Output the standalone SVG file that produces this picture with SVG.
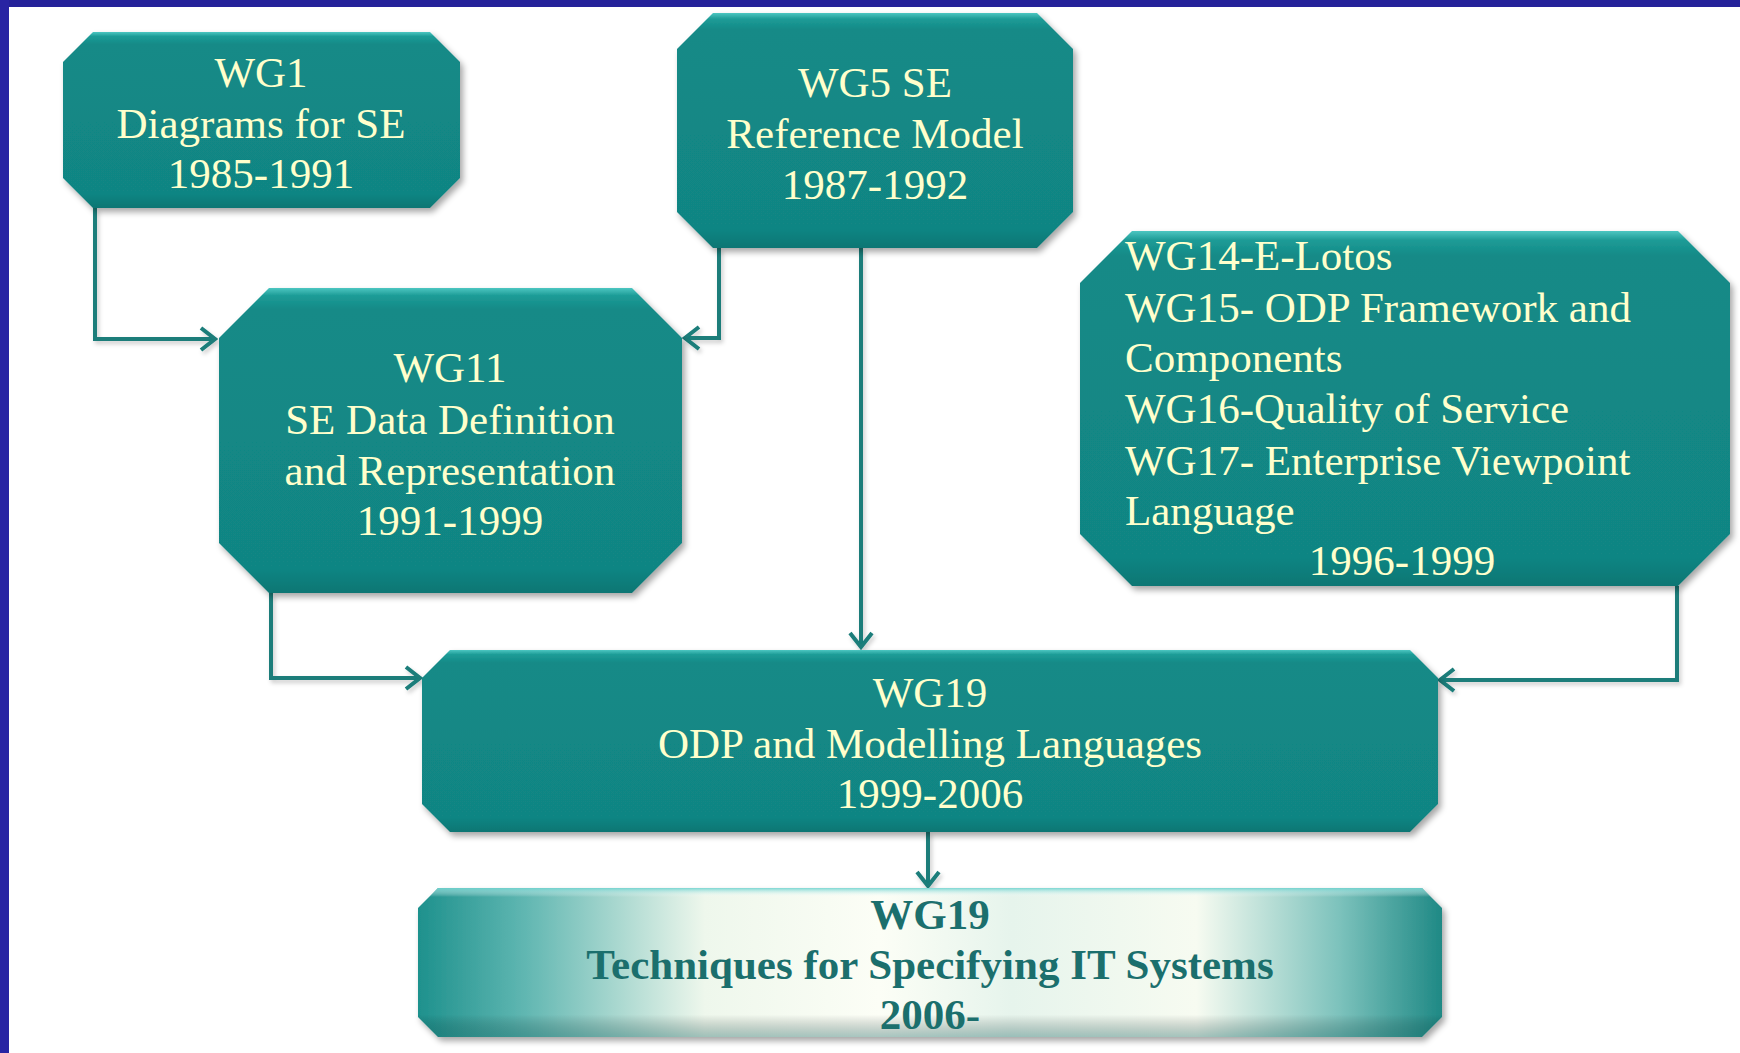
<svg xmlns="http://www.w3.org/2000/svg" width="1740" height="1053" viewBox="0 0 1740 1053">
<style>
.box{fill:url(#teal);filter:url(#sh)}
.t{font-family:"Liberation Serif","Times New Roman",serif;font-size:43px;fill:#FFFFCC}
.c{text-anchor:middle}
.b{font-family:"Liberation Serif","Times New Roman",serif;font-size:43px;font-weight:bold;fill:#1B6F6D;text-anchor:middle}
.conn{fill:none;stroke:#1A7D7A;stroke-width:4;marker-end:url(#arr)}
</style>
<defs>
<linearGradient id="teal" x1="0" y1="0" x2="0" y2="1">
<stop offset="0" stop-color="#4CC6C1"/>
<stop offset="0.025" stop-color="#1E9C97"/>
<stop offset="0.07" stop-color="#138A87"/>
<stop offset="0.92" stop-color="#118583"/>
<stop offset="1" stop-color="#0E7673"/>
</linearGradient>
<linearGradient id="light" x1="0" y1="0" x2="1" y2="0">
<stop offset="0" stop-color="#1E918D"/>
<stop offset="0.1" stop-color="#5DB5B0"/>
<stop offset="0.28" stop-color="#EEF7EC"/>
<stop offset="0.45" stop-color="#FCFEF6"/>
<stop offset="0.58" stop-color="#E6F4EC"/>
<stop offset="0.76" stop-color="#F7FBF1"/>
<stop offset="0.9" stop-color="#7CC2BC"/>
<stop offset="1" stop-color="#1F8985"/>
</linearGradient>
<linearGradient id="lightv" x1="0" y1="0" x2="0" y2="1">
<stop offset="0" stop-color="#6FD3CF" stop-opacity="0.9"/>
<stop offset="0.06" stop-color="#ffffff" stop-opacity="0"/>
<stop offset="0.85" stop-color="#000000" stop-opacity="0"/>
<stop offset="1" stop-color="#0B5E5C" stop-opacity="0.35"/>
</linearGradient>
<filter id="sh" x="-5%" y="-5%" width="112%" height="120%">
<feDropShadow dx="3" dy="4" stdDeviation="3" flood-color="#000" flood-opacity="0.35"/>
</filter>
<filter id="lsh" filterUnits="userSpaceOnUse" x="0" y="0" width="1740" height="1053">
<feDropShadow dx="2" dy="3" stdDeviation="2" flood-color="#000" flood-opacity="0.2"/>
</filter>
<marker id="arr" markerUnits="userSpaceOnUse" viewBox="0 0 20 28" refX="17" refY="14" markerWidth="20" markerHeight="28" orient="auto">
<path d="M3,3 L17,14 L3,25" fill="none" stroke="#1A7D7A" stroke-width="4"/>
</marker>
</defs>
<rect x="0" y="0" width="1740" height="1053" fill="#FFFFFF"/>
<rect x="0" y="0" width="1740" height="7" fill="#25229A"/>
<rect x="0" y="0" width="9" height="1053" fill="#2824A3"/>

<g id="connectors" filter="url(#lsh)">
<path class="conn" d="M95,208 V339 H215"/>
<path class="conn" d="M719,248 V338 H685"/>
<path class="conn" d="M861,248 V647"/>
<path class="conn" d="M271,593 V678 H420"/>
<path class="conn" d="M1677,586 V680 H1440"/>
<path class="conn" d="M928,832 V886"/>
</g>

<g id="wg1">
<path class="box" d="M93,32 L430,32 L460,62 L460,178 L430,208 L93,208 L63,178 L63,62 Z"/>
<text class="t c" x="261" y="87">WG1</text>
<text class="t c" x="261" y="138">Diagrams for SE</text>
<text class="t c" x="261" y="188">1985-1991</text>
</g>

<g id="wg5">
<path class="box" d="M713,13 L1037,13 L1073,49 L1073,212 L1037,248 L713,248 L677,212 L677,49 Z"/>
<text class="t c" x="875" y="97">WG5 SE</text>
<text class="t c" x="875" y="148">Reference Model</text>
<text class="t c" x="875" y="199">1987-1992</text>
</g>

<g id="wg11">
<path class="box" d="M269,288 L632,288 L682,338 L682,543 L632,593 L269,593 L219,543 L219,338 Z"/>
<text class="t c" x="450" y="382">WG11</text>
<text class="t c" x="450" y="434">SE Data Definition</text>
<text class="t c" x="450" y="485">and Representation</text>
<text class="t c" x="450" y="535">1991-1999</text>
</g>

<g id="wg14">
<path class="box" d="M1132,231 L1678,231 L1730,283 L1730,534 L1678,586 L1132,586 L1080,534 L1080,283 Z"/>
<text class="t" x="1125" y="270">WG14-E-Lotos</text>
<text class="t" x="1125" y="322">WG15- ODP Framework and</text>
<text class="t" x="1125" y="372">Components</text>
<text class="t" x="1125" y="423">WG16-Quality of Service</text>
<text class="t" x="1125" y="475">WG17- Enterprise Viewpoint</text>
<text class="t" x="1125" y="525">Language</text>
<text class="t c" x="1402" y="575">1996-1999</text>
</g>

<g id="wg19">
<path class="box" d="M450,650 L1410,650 L1438,678 L1438,804 L1410,832 L450,832 L422,804 L422,678 Z"/>
<text class="t c" x="930" y="707">WG19</text>
<text class="t c" x="930" y="758">ODP and Modelling Languages</text>
<text class="t c" x="930" y="808">1999-2006</text>
</g>

<g id="wg19b">
<path d="M438,888 L1422,888 L1442,908 L1442,1017 L1422,1037 L438,1037 L418,1017 L418,908 Z" fill="url(#light)" filter="url(#sh)"/>
<path d="M438,888 L1422,888 L1442,908 L1442,1017 L1422,1037 L438,1037 L418,1017 L418,908 Z" fill="url(#lightv)"/>
<text class="b" x="930" y="929">WG19</text>
<text class="b" x="930" y="979">Techniques for Specifying IT Systems</text>
<text class="b" x="930" y="1029">2006-</text>
</g>
</svg>
